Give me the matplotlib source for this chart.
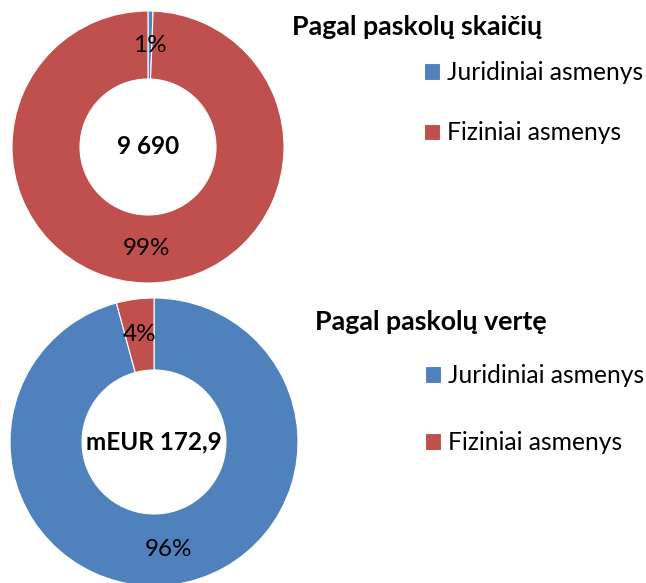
import matplotlib
matplotlib.use("Agg")
import matplotlib.pyplot as plt

plt.rcParams['font.family'] = ['Lato', 'DejaVu Sans']

# data
categories = ['Juridiniai asmenys', 'Fiziniai asmenys']
count_share = [0.6, 99.4]      # pagal paskolų skaičių, %
value_share = [95.8, 4.2]      # pagal paskolų vertę, %
count_total = '9 690'
value_total = 'mEUR 172,9'
titles = ['Pagal paskolų skaičių', 'Pagal paskolų vertę']
colors = ['#4F81BD', '#C0504D']

W, H = 646, 583
fig = plt.figure(figsize=(W / 100, H / 100), dpi=100)


def donut(cx, cy, r, shares, center_text, title, title_xy, leg_xy, leg_gap):
	ax = fig.add_axes([(cx - r) / W, (H - cy - r) / H, 2 * r / W, 2 * r / H])
	wedges, texts, autotexts = ax.pie(shares, colors=colors, startangle=90, counterclock=False,
		radius=1, autopct='%.0f%%', pctdistance=0.75,
		wedgeprops=dict(width=0.5, edgecolor='white', linewidth=0.8),
		textprops=dict(fontsize=17.5, color='black'))
	ax.set_xlim(-1, 1)
	ax.set_ylim(-1, 1)
	ax.set_aspect('equal')
	ax.axis('off')
	ax.text(0, 0, center_text, ha='center', va='center', fontsize=17.5, fontweight='bold')

	fig.text(title_xy[0] / W, 1 - title_xy[1] / H, title, ha='left', va='center',
		fontsize=19.3, fontweight='bold')

	ax.legend(wedges, categories, loc='upper left', bbox_to_anchor=(leg_xy[0] / W, 1 - leg_xy[1] / H),
		bbox_transform=fig.transFigure, frameon=False, fontsize=17.7,
		handlelength=0.65, handleheight=0.65, handletextpad=0.28,
		labelspacing=leg_gap, borderpad=0, borderaxespad=0)


donut(148, 147, 136, count_share, count_total, titles[0], (292, 27), (424, 61), 1.52)
donut(154, 442, 144, value_share, value_total, titles[1], (315, 322), (425, 364), 1.80)

fig.savefig('out.png', dpi=100)
